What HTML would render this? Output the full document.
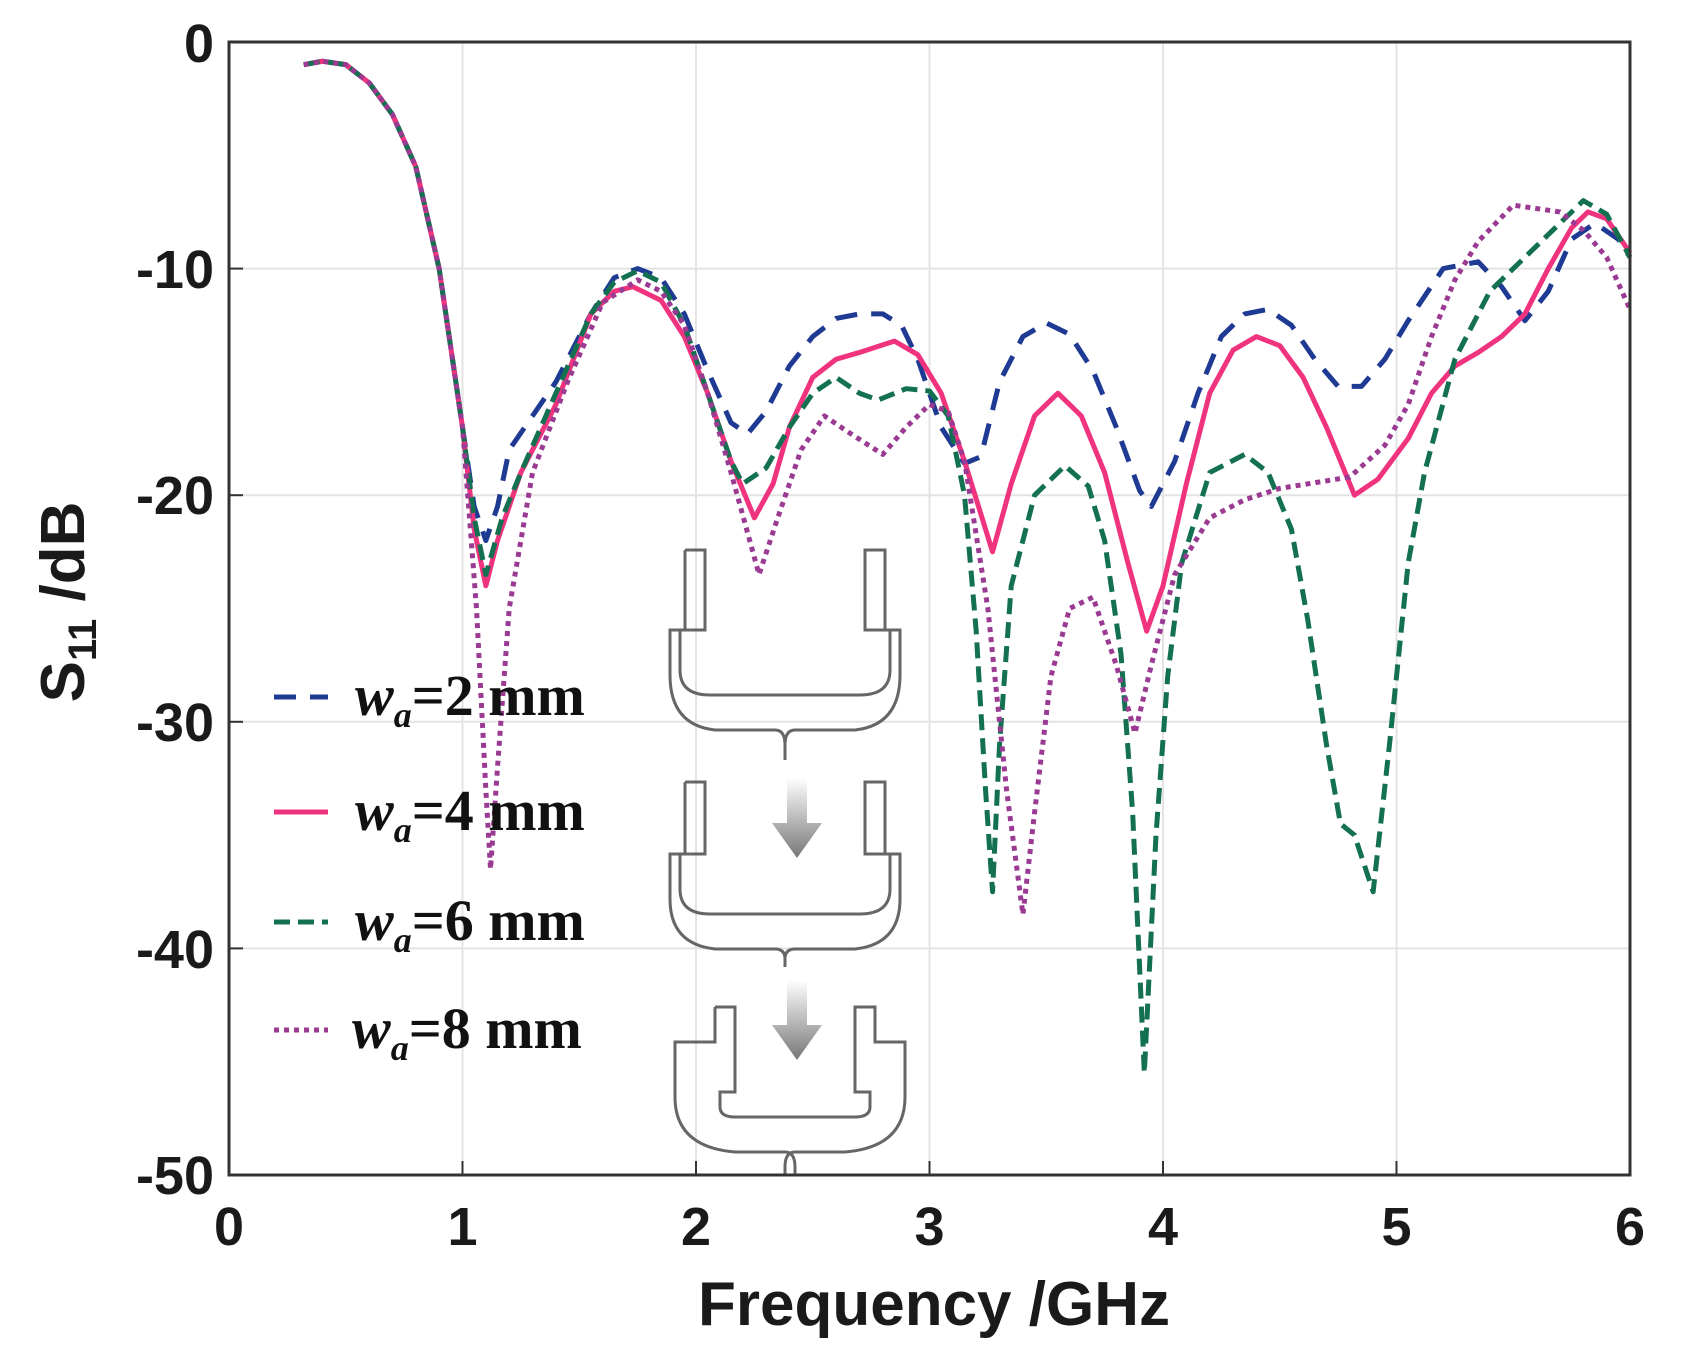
<!DOCTYPE html>
<html><head><meta charset="utf-8"><style>body{margin:0;background:#fff}svg{display:block}</style></head><body>
<svg width="1684" height="1354" xmlns="http://www.w3.org/2000/svg">
<rect width="1684" height="1354" fill="#fff"/>
<g stroke="#e3e3e3" stroke-width="2">
<line x1="462.5" y1="42" x2="462.5" y2="1175"/><line x1="696" y1="42" x2="696" y2="1175"/><line x1="929.5" y1="42" x2="929.5" y2="1175"/><line x1="1163" y1="42" x2="1163" y2="1175"/><line x1="1396.5" y1="42" x2="1396.5" y2="1175"/>
<line x1="229" y1="268.6" x2="1630" y2="268.6"/><line x1="229" y1="495.2" x2="1630" y2="495.2"/><line x1="229" y1="721.8" x2="1630" y2="721.8"/><line x1="229" y1="948.4" x2="1630" y2="948.4"/>
</g>
<g stroke="#333" stroke-width="2">
<line x1="462.5" y1="1175" x2="462.5" y2="1161"/><line x1="696" y1="1175" x2="696" y2="1161"/><line x1="929.5" y1="1175" x2="929.5" y2="1161"/><line x1="1163" y1="1175" x2="1163" y2="1161"/><line x1="1396.5" y1="1175" x2="1396.5" y2="1161"/>
<line x1="229" y1="268.6" x2="243" y2="268.6"/><line x1="229" y1="495.2" x2="243" y2="495.2"/><line x1="229" y1="721.8" x2="243" y2="721.8"/><line x1="229" y1="948.4" x2="243" y2="948.4"/>
</g>
<g fill="none" stroke="#666" stroke-width="3">
<path d="M685 550 h20 v80 h-25 v40 q0 25 30 25 h150 q30 0 30 -25 v-40 h-25 v-80 h20 v80 h15 v45 q0 50 -45 55 h-60 q-10 0 -10 15 v15 M685 550 v80 h-15 v45 q0 50 45 55 h60 q10 0 10 15 v15"/>
<path d="M685 782 h20 v72 h-25 v35 q0 25 30 25 h150 q30 0 30 -25 v-35 h-25 v-72 h20 v72 h15 v45 q0 45 -45 50 h-60 q-10 0 -10 10 v8 M685 782 v72 h-15 v45 q0 45 45 50 h60 q10 0 10 10 v8"/>
<path d="M715 1007 h20 v85 h-15 v15 q0 10 15 10 h120 q15 0 15 -10 v-15 h-15 v-85 h20 v35 h30 v55 q0 50 -60 55 h-50 q-10 0 -10 15 v8 M715 1007 v35 h-40 v55 q0 50 60 55 h50 q10 0 10 15 v8"/>
</g>
<defs><linearGradient id="ag" x1="0" y1="0" x2="0" y2="1"><stop offset="0" stop-color="#fff"/><stop offset="1" stop-color="#777"/></linearGradient></defs>
<path d="M787 778 h20 v45 h15 l-25 35 l-25 -35 h15z" fill="url(#ag)"/>
<path d="M787 980 h20 v45 h15 l-25 35 l-25 -35 h15z" fill="url(#ag)"/>
<g transform="translate(229,42) scale(233.5,22.66)" fill="none" stroke-linejoin="round">
<polyline vector-effect="non-scaling-stroke" stroke="#1f3a93" stroke-width="5" stroke-dasharray="22,14" points="0.32,1 0.4,0.85 0.5,1 0.6,1.8 0.7,3.2 0.8,5.5 0.9,10 1.0,17 1.05,20.5 1.1,22 1.15,20.5 1.2,18 1.3,16.5 1.4,15 1.55,12 1.65,10.4 1.75,10 1.85,10.4 1.95,12 2.05,14.5 2.15,16.8 2.22,17.3 2.3,16.3 2.4,14.3 2.5,13 2.6,12.2 2.7,12 2.8,12 2.88,12.5 2.95,14 3.05,17 3.15,18.6 3.22,18.3 3.3,15 3.4,13 3.5,12.4 3.6,12.9 3.7,14.5 3.8,17 3.9,19.8 3.95,20.5 4.05,18.5 4.15,15.5 4.25,13 4.35,12 4.45,11.8 4.55,12.5 4.65,14 4.75,15.2 4.85,15.2 4.95,14 5.05,12.3 5.2,10 5.35,9.7 5.45,10.8 5.55,12.3 5.65,11 5.75,8.7 5.85,8 5.95,8.7 6.0,9.5"/>
<polyline vector-effect="non-scaling-stroke" stroke="#f0337f" stroke-width="5" points="0.32,1 0.4,0.85 0.5,1 0.6,1.8 0.7,3.2 0.8,5.5 0.9,10 1.0,17 1.05,21.5 1.1,24 1.15,22 1.25,19 1.4,16 1.55,12 1.65,11 1.73,10.8 1.85,11.4 1.95,13 2.05,15.5 2.15,18.5 2.25,21 2.33,19.5 2.4,17 2.5,14.8 2.6,14 2.7,13.7 2.85,13.2 2.95,13.8 3.05,15.5 3.15,18.5 3.27,22.5 3.35,19.5 3.45,16.5 3.55,15.5 3.65,16.5 3.75,19 3.85,23 3.93,26 4.0,24 4.1,19.5 4.2,15.5 4.3,13.6 4.4,13 4.5,13.4 4.6,14.8 4.7,17 4.82,20 4.92,19.3 5.05,17.5 5.15,15.5 5.25,14.3 5.35,13.7 5.45,13 5.55,12 5.65,10 5.75,8.2 5.82,7.5 5.9,7.8 6.0,9.3"/>
<polyline vector-effect="non-scaling-stroke" stroke="#137050" stroke-width="5" stroke-dasharray="16,8" points="0.32,1 0.4,0.85 0.5,1 0.6,1.8 0.7,3.2 0.8,5.5 0.9,10 1.0,17 1.05,21 1.1,23.5 1.17,21 1.25,19 1.4,15.5 1.55,12 1.65,10.6 1.75,10.1 1.85,10.6 1.95,12.5 2.05,15.5 2.15,18.5 2.2,19.5 2.3,18.8 2.4,17 2.5,15.5 2.6,14.8 2.7,15.5 2.78,15.8 2.9,15.3 3.0,15.4 3.08,16.5 3.15,20 3.2,26 3.24,33 3.27,37.5 3.3,31 3.35,24 3.45,20 3.58,18.7 3.68,19.6 3.75,22 3.82,27 3.87,34 3.92,45.5 3.97,35 4.02,28 4.08,23 4.2,19 4.35,18.2 4.45,19 4.55,21.5 4.62,25.5 4.7,31 4.76,34.5 4.82,35 4.9,37.5 4.97,31 5.05,23 5.12,19 5.25,14 5.4,11 5.6,9 5.8,7 5.9,7.6 6.0,9.5"/>
<polyline vector-effect="non-scaling-stroke" stroke="#9b3a93" stroke-width="5" stroke-dasharray="5,5" points="0.32,1 0.4,0.85 0.5,1 0.6,1.8 0.7,3.2 0.8,5.5 0.9,10 1.0,17 1.06,25 1.1,33 1.12,36.5 1.15,32 1.2,25 1.3,19 1.45,15 1.6,11.5 1.75,10.5 1.85,11 1.95,12.5 2.05,15.5 2.15,19 2.27,23.5 2.35,21 2.45,18 2.55,16.5 2.65,17.2 2.8,18.2 2.9,17 3.0,16 3.08,16.3 3.15,18.5 3.25,25 3.33,33 3.4,38.5 3.45,34 3.52,28 3.6,25 3.7,24.5 3.8,27.5 3.88,30.5 3.95,27.5 4.05,23.5 4.2,21 4.35,20.2 4.5,19.7 4.8,19.2 4.95,17.8 5.05,16 5.15,13 5.25,10.5 5.35,8.8 5.5,7.2 5.7,7.5 5.8,8.3 5.9,9.5 6.0,11.8"/>
</g>
<rect x="229" y="42" width="1401" height="1133" fill="none" stroke="#333" stroke-width="3"/>
<line x1="274" y1="697" x2="296" y2="697" stroke="#1f3a93" stroke-width="5"/>
<line x1="310" y1="697" x2="328" y2="697" stroke="#1f3a93" stroke-width="5"/>
<line x1="274" y1="812" x2="328" y2="812" stroke="#f0337f" stroke-width="5"/>
<line x1="274" y1="922" x2="328" y2="922" stroke="#137050" stroke-width="5" stroke-dasharray="16,8"/>
<line x1="274" y1="1030" x2="328" y2="1030" stroke="#9b3a93" stroke-width="5" stroke-dasharray="5,5"/>
<g font-family="Liberation Serif, serif" font-weight="bold" font-size="58" fill="#111">
<text x="355" y="715"><tspan font-style="italic">w</tspan><tspan font-style="italic" font-size="36" dy="12">a</tspan><tspan dy="-12">=2 mm</tspan></text>
<text x="355" y="830"><tspan font-style="italic">w</tspan><tspan font-style="italic" font-size="36" dy="12">a</tspan><tspan dy="-12">=4 mm</tspan></text>
<text x="355" y="940"><tspan font-style="italic">w</tspan><tspan font-style="italic" font-size="36" dy="12">a</tspan><tspan dy="-12">=6 mm</tspan></text>
<text x="352" y="1048"><tspan font-style="italic">w</tspan><tspan font-style="italic" font-size="36" dy="12">a</tspan><tspan dy="-12">=8 mm</tspan></text>
</g>
<g font-family="Liberation Sans, sans-serif" font-weight="bold" font-size="54" fill="#1a1a1a">
<g text-anchor="end">
<text x="214" y="62">0</text><text x="214" y="288">-10</text><text x="214" y="514">-20</text><text x="214" y="741">-30</text><text x="214" y="968">-40</text><text x="214" y="1194">-50</text>
</g>
<g text-anchor="middle">
<text x="229" y="1245">0</text><text x="462.5" y="1245">1</text><text x="696" y="1245">2</text><text x="929.5" y="1245">3</text><text x="1163" y="1245">4</text><text x="1396.5" y="1245">5</text><text x="1630" y="1245">6</text>
<text x="934" y="1325" font-size="62">Frequency /GHz</text>
<text transform="translate(84,602) rotate(-90)" font-size="62">S<tspan font-size="40" dy="12">11</tspan><tspan dy="-12"> /dB</tspan></text>
</g>
</g>
</svg>
</body></html>
